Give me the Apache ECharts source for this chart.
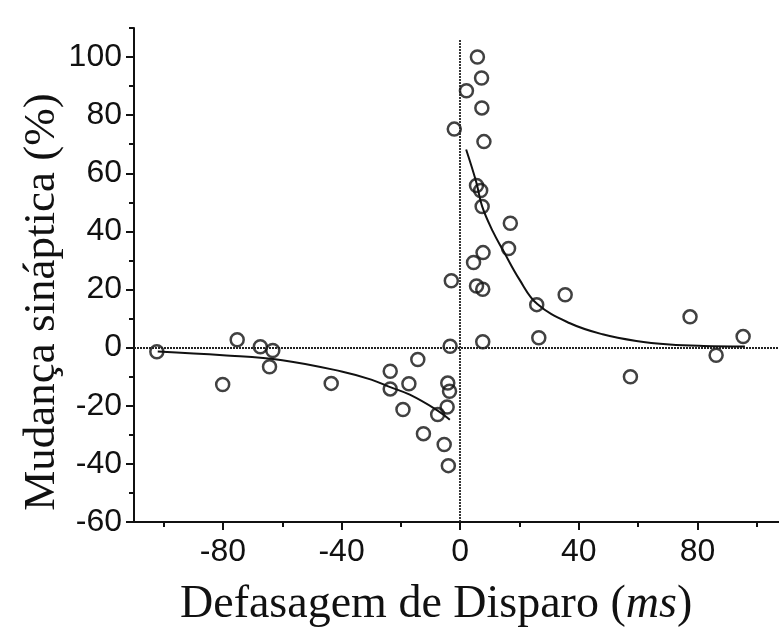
<!DOCTYPE html>
<html>
<head>
<meta charset="utf-8">
<title>Plasticidade dependente do tempo de disparo</title>
<script src="https://cdn.jsdelivr.net/npm/echarts@6/dist/echarts.min.js"></script>
<style>
  html, body { margin: 0; padding: 0; background: #ffffff; }
  #chart { width: 779px; height: 632px; }
</style>
</head>
<body>
<div id="chart"></div>
<script>
// Spike timing offset (ms) and synaptic change (%) for each recorded pair
const spikeOffset = [
  -102.3, -80.1, -75.2, -67.4, -63.2, -64.3, -43.5, -23.6, -23.6, -17.3, -14.3,
  -19.3, -12.4, -7.6, -5.4, -4.0, -4.4, -4.2, -3.6, -3.4, -3.0, -2.0,
  2.1, 5.8, 7.2, 7.3, 8.0, 5.5, 6.9, 7.4, 16.9, 16.3, 7.7, 4.5, 5.5, 7.6, 7.6,
  25.8, 35.4, 26.5, 57.4, 77.5, 86.3, 95.4
];
const synapticChange = [
  -1.4, -12.7, 2.7, 0.3, -1.0, -6.6, -12.3, -8.1, -14.2, -12.4, -4.1,
  -21.3, -29.6, -23.0, -33.3, -40.6, -20.4, -12.2, -15.0, 0.5, 23.0, 75.2,
  88.4, 100.0, 92.8, 82.5, 70.9, 55.8, 54.1, 48.6, 42.8, 34.1, 32.7, 29.3, 21.2, 20.1, 2.0,
  14.8, 18.2, 3.4, -10.0, 10.6, -2.6, 3.8
];

// Fitted curve for depression (negative offsets)
const depressionFitX = [-102, -80, -60, -40, -30, -23.6, -17, -8, -3.5];
const depressionFitY = [-1.3, -2.6, -4.3, -8.2, -11.0, -13.6, -16.2, -21.4, -24.8];

// Fitted curve for potentiation (positive offsets)
const potentiationFitX = [2, 5.4, 7.4, 11, 14.4, 20, 26, 37, 48, 59.4, 70.6, 82, 96];
const potentiationFitY = [68.2, 57.0, 48.6, 40.0, 33.6, 23.4, 15.0, 8.4, 4.6, 2.3, 1.1, 0.6, 0.4];

// Axis ticks and labels
const xLabelValues = [-80, -40, 0, 40, 80];
const xMinorTicks = [-100, -60, -20, 20, 60, 100];
const yLabelValues = [-60, -40, -20, 0, 20, 40, 60, 80, 100];
const yMinorTicks = [-50, -30, -10, 10, 30, 50, 70, 90, 110];

const xTitle = 'Defasagem de Disparo (';
const xTitleUnit = 'ms';
const yTitle = 'Mudança sináptica (%)';

const pairs = (xs, ys) => xs.map((x, i) => [x, ys[i]]);

const ink = '#111111';
const labelFont = "'Liberation Sans', Arial, sans-serif";
const titleFont = "'Liberation Serif', 'DejaVu Serif', serif";

const X_MIN = -110, X_MAX = 107.5;

const chart = echarts.init(document.getElementById('chart'), null, { renderer: 'canvas' });

const baseX = { type: 'value', min: X_MIN, max: X_MAX, position: 'bottom', splitLine: { show: false } };
const baseY = { type: 'value', min: -60, max: 110, position: 'left', splitLine: { show: false } };

chart.setOption({
  animation: false,
  backgroundColor: '#ffffff',
  grid: { left: 134, right: 0, top: 28, bottom: 110, containLabel: false },
  xAxis: [
    Object.assign({}, baseX, {
      axisLine: { onZero: false, lineStyle: { color: ink, width: 2 } },
      axisTick: { customValues: xLabelValues, length: 8, lineStyle: { color: ink, width: 2 } },
      axisLabel: { customValues: xLabelValues, margin: 14, fontSize: 32, color: ink, fontFamily: labelFont }
    }),
    Object.assign({}, baseX, {
      axisLine: { show: false, onZero: false },
      axisTick: { customValues: xMinorTicks, length: 5, lineStyle: { color: ink, width: 2 } },
      axisLabel: { show: false }
    })
  ],
  yAxis: [
    Object.assign({}, baseY, {
      axisLine: { onZero: false, lineStyle: { color: ink, width: 2 } },
      axisTick: { customValues: yLabelValues, length: 8, lineStyle: { color: ink, width: 2 } },
      axisLabel: { customValues: yLabelValues, margin: 12, fontSize: 32, color: ink, fontFamily: labelFont }
    }),
    Object.assign({}, baseY, {
      axisLine: { show: false, onZero: false },
      axisTick: { customValues: yMinorTicks, length: 5, lineStyle: { color: ink, width: 2 } },
      axisLabel: { show: false }
    })
  ],
  series: [
    {
      type: 'line',
      name: 'ajuste LTD',
      data: pairs(depressionFitX, depressionFitY),
      smooth: 0.4,
      showSymbol: false,
      lineStyle: { color: ink, width: 2 },
      z: 3,
      markLine: {
        silent: true,
        symbol: 'none',
        label: { show: false },
        lineStyle: { color: '#222222', width: 1.8, type: [2, 1] },
        data: [
          [{ coord: [X_MIN, 0] }, { coord: [X_MAX, 0] }],
          [{ coord: [0, -60] }, { coord: [0, 106] }]
        ]
      }
    },
    {
      type: 'line',
      name: 'ajuste LTP',
      data: pairs(potentiationFitX, potentiationFitY),
      smooth: 0.4,
      showSymbol: false,
      lineStyle: { color: ink, width: 2 },
      z: 3
    },
    {
      type: 'scatter',
      name: 'pares',
      data: pairs(spikeOffset, synapticChange),
      symbol: 'circle',
      symbolSize: 13,
      itemStyle: { color: 'rgba(255,255,255,0)', borderColor: ink, borderWidth: 2.5 },
      z: 4
    }
  ],
  graphic: [
    {
      type: 'text',
      left: 180,
      top: 582,
      style: {
        text: '{r|' + xTitle + '}{i|' + xTitleUnit + '}{r|)}',
        rich: {
          r: { fontSize: 46, fontFamily: titleFont, fill: ink },
          i: { fontSize: 46, fontFamily: titleFont, fontStyle: 'italic', fill: ink }
        }
      }
    },
    {
      type: 'text',
      x: 42,
      y: 302,
      rotation: Math.PI / 2,
      style: {
        text: yTitle,
        fontSize: 45,
        fontFamily: titleFont,
        fill: ink,
        align: 'center',
        verticalAlign: 'middle'
      }
    }
  ]
});
</script>
</body>
</html>
